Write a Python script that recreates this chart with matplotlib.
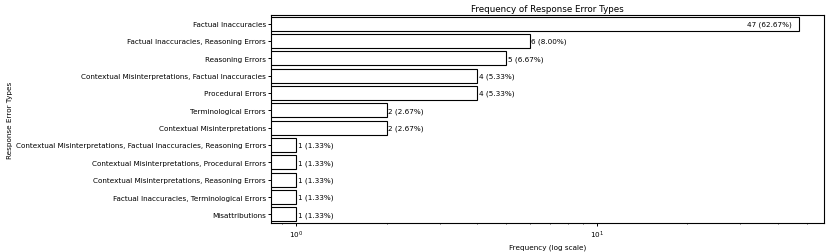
import matplotlib
matplotlib.use('Agg')
import matplotlib.pyplot as plt

# error categories and how often each showed up
categories = [
    'Factual Inaccuracies',
    'Factual Inaccuracies, Reasoning Errors',
    'Reasoning Errors',
    'Contextual Misinterpretations, Factual Inaccuracies',
    'Procedural Errors',
    'Terminological Errors',
    'Contextual Misinterpretations',
    'Contextual Misinterpretations, Factual Inaccuracies, Reasoning Errors',
    'Contextual Misinterpretations, Procedural Errors',
    'Contextual Misinterpretations, Reasoning Errors',
    'Factual Inaccuracies, Terminological Errors',
    'Misattributions',
]
counts = [47, 6, 5, 4, 4, 2, 2, 1, 1, 1, 1, 1]

S = 0.525  # the original was drawn bigger and shrunk
plt.rcParams['font.size'] = 10 * S
plt.rcParams['axes.linewidth'] = 0.8
plt.rcParams['axes.labelpad'] = 4 * S
plt.rcParams['xtick.major.width'] = 0.7
plt.rcParams['ytick.major.width'] = 0.7
plt.rcParams['xtick.major.size'] = 3.5 * S
plt.rcParams['ytick.major.size'] = 3.5 * S
plt.rcParams['xtick.minor.size'] = 2 * S
plt.rcParams['xtick.minor.width'] = 0.5
plt.rcParams['xtick.major.pad'] = 4.5 * S
plt.rcParams['ytick.major.pad'] = 3.5 * S

fig = plt.figure(figsize=(8.3, 2.53), dpi=100)
ax = fig.add_axes([0.3265, 0.1146, 0.6663, 0.8222])

total = sum(counts)
ypos = list(range(len(categories)))
ax.barh(ypos, counts, height=0.8, color='white', edgecolor='black',
        linewidth=0.8, log=True)
ax.set_yticks(ypos)
ax.set_yticklabels(categories)
ax.set_ylim(len(categories) - 0.5, -0.5)

# count labels, the biggest one goes inside its bar
for i, c in enumerate(counts):
    txt = '%d (%.2f%%)' % (c, 100.0 * c / total)
    if c == max(counts):
        ax.annotate(txt, (c, i), xytext=(-5, 0), textcoords='offset points',
                    ha='right', va='center')
    else:
        ax.annotate(txt, (c, i), xytext=(1, 0), textcoords='offset points',
                    ha='left', va='center')

ax.set_xlabel('Frequency (log scale)')
ax.set_ylabel('Response Error Types')
ax.set_title('Frequency of Response Error Types', fontsize=12 * S, pad=6 * S)

fig.savefig('out.png', dpi=100)
